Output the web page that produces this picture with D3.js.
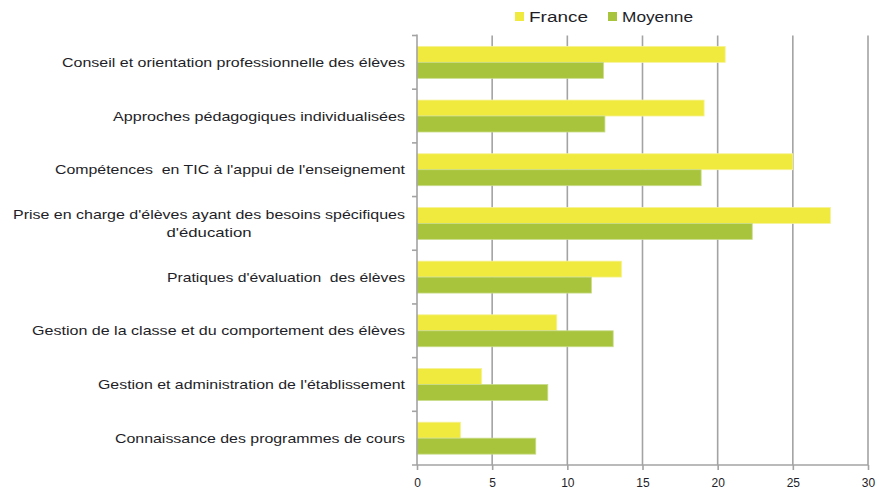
<!DOCTYPE html>
<html><head><meta charset="utf-8">
<script src="https://cdn.jsdelivr.net/npm/d3@7"></script>
<style>body{margin:0;background:#fff}svg{display:block}text{font-family:"Liberation Sans",Arial,sans-serif;fill:#1e1e28;white-space:pre}</style>
</head><body>
<script>
const categories = [
  ["Conseil et orientation professionnelle des élèves"],
  ["Approches pédagogiques individualisées"],
  ["Compétences  en TIC à l'appui de l'enseignement"],
  ["Prise en charge d'élèves ayant des besoins spécifiques", "d'éducation"],
  ["Pratiques d'évaluation  des élèves"],
  ["Gestion de la classe et du comportement des élèves"],
  ["Gestion et administration de l'établissement"],
  ["Connaissance des programmes de cours"]
];
const labelWidths = [343, 292, 350, 392, 238, 373, 307, 290];
const seriesNames = ["France", "Moyenne"];
const france  = [20.5, 19.1, 25.0, 27.5, 13.6, 9.3, 4.3, 2.9];
const moyenne = [12.4, 12.5, 18.9, 22.3, 11.6, 13.05, 8.7, 7.9];
const xTicks = [0, 5, 10, 15, 20, 25, 30];
const colors = ["#f0ea3e", "#a8c43c"];

(function () {
const W = 879, H = 490;
const mLeft = 417, mRight = 868, mTop = 35.5, mBottom = 465;
const svg = d3.select("body").append("svg").attr("width", W).attr("height", H);

const x = d3.scaleLinear().domain([0, 30]).range([mLeft, mRight]);
const y = d3.scaleBand().domain(d3.range(categories.length)).range([mTop, mBottom]).padding(0);
const ys = d3.scaleBand().domain([0, 1]).range([0, y.bandwidth()]).paddingInner(0).paddingOuter(0.68);

// gridlines
svg.append("g").selectAll("line").data(xTicks.filter(t => t > 0)).join("line")
  .attr("x1", d => x(d)).attr("x2", d => x(d)).attr("y1", mTop).attr("y2", mBottom)
  .attr("stroke", "#a3a3a3").attr("stroke-width", 1.6);

// bars
const rows = categories.map((c, i) => ({i, vals: [france[i], moyenne[i]]}));
const g = svg.append("g");
rows.forEach(r => {
  r.vals.forEach((v, s) => {
    g.append("rect")
      .attr("x", x(0)).attr("y", y(r.i) + ys(s))
      .attr("width", x(v) - x(0)).attr("height", ys.bandwidth())
      .attr("fill", colors[s]).attr("stroke", s === 0 ? "#f6f29a" : "#c9db8a").attr("stroke-width", 0.8);
  });
});

// x axis
const xAxis = d3.axisBottom(x).tickValues(xTicks).tickSize(5).tickSizeOuter(0).tickPadding(8);
const xa = svg.append("g").attr("transform", `translate(0,${mBottom})`).call(xAxis);
xa.select(".domain").attr("stroke", "#a3a3a3").attr("stroke-width", 1.6).attr("d", `M${mLeft - 5},0H${mRight}`);
xa.selectAll(".tick line").attr("stroke", "#a3a3a3").attr("stroke-width", 1.6);
xa.selectAll(".tick text").attr("font-size", 12).attr("fill", "#1e1e28").attr("font-family", "Liberation Sans, Arial, sans-serif");

// y axis
const yEdge = d3.scaleLinear().domain([0, categories.length]).range([mTop, mBottom]);
const ya = svg.append("g");
ya.append("line").attr("x1", mLeft).attr("x2", mLeft).attr("y1", mTop - 1).attr("y2", mBottom)
  .attr("stroke", "#a3a3a3").attr("stroke-width", 1.6);
ya.selectAll("line.t").data(d3.range(categories.length)).join("line").attr("class", "t")
  .attr("x1", mLeft - 5).attr("x2", mLeft).attr("y1", d => yEdge(d)).attr("y2", d => yEdge(d))
  .attr("stroke", "#a3a3a3").attr("stroke-width", 1.6);

// category labels
const labelRight = 405;
categories.forEach((lines, i) => {
  const cy = y(i) + y.bandwidth() / 2;
  const w = labelWidths[i];
  if (lines.length === 1) {
    svg.append("text").attr("x", labelRight).attr("y", cy).attr("dy", "0.35em")
      .attr("text-anchor", "end").attr("font-size", 13)
      .attr("textLength", w).attr("lengthAdjust", "spacingAndGlyphs").text(lines[0]);
  } else {
    svg.append("text").attr("x", labelRight).attr("y", cy - 9).attr("dy", "0.35em")
      .attr("text-anchor", "end").attr("font-size", 13)
      .attr("textLength", w).attr("lengthAdjust", "spacingAndGlyphs").text(lines[0]);
    svg.append("text").attr("x", labelRight - w / 2).attr("y", cy + 9).attr("dy", "0.35em")
      .attr("text-anchor", "middle").attr("font-size", 13)
      .attr("textLength", 85).attr("lengthAdjust", "spacingAndGlyphs").text(lines[1]);
  }
});

// legend
const legendX = [515, 608];
const legendTextW = [59, 71];
seriesNames.forEach((n, s) => {
  svg.append("rect").attr("x", legendX[s]).attr("y", 12).attr("width", 9).attr("height", 9).attr("fill", colors[s]);
  svg.append("text").attr("x", legendX[s] + 14).attr("y", 17).attr("dy", "0.35em")
    .attr("font-size", 14).attr("textLength", legendTextW[s]).attr("lengthAdjust", "spacingAndGlyphs").text(n);
});
})();
</script>
</body></html>
